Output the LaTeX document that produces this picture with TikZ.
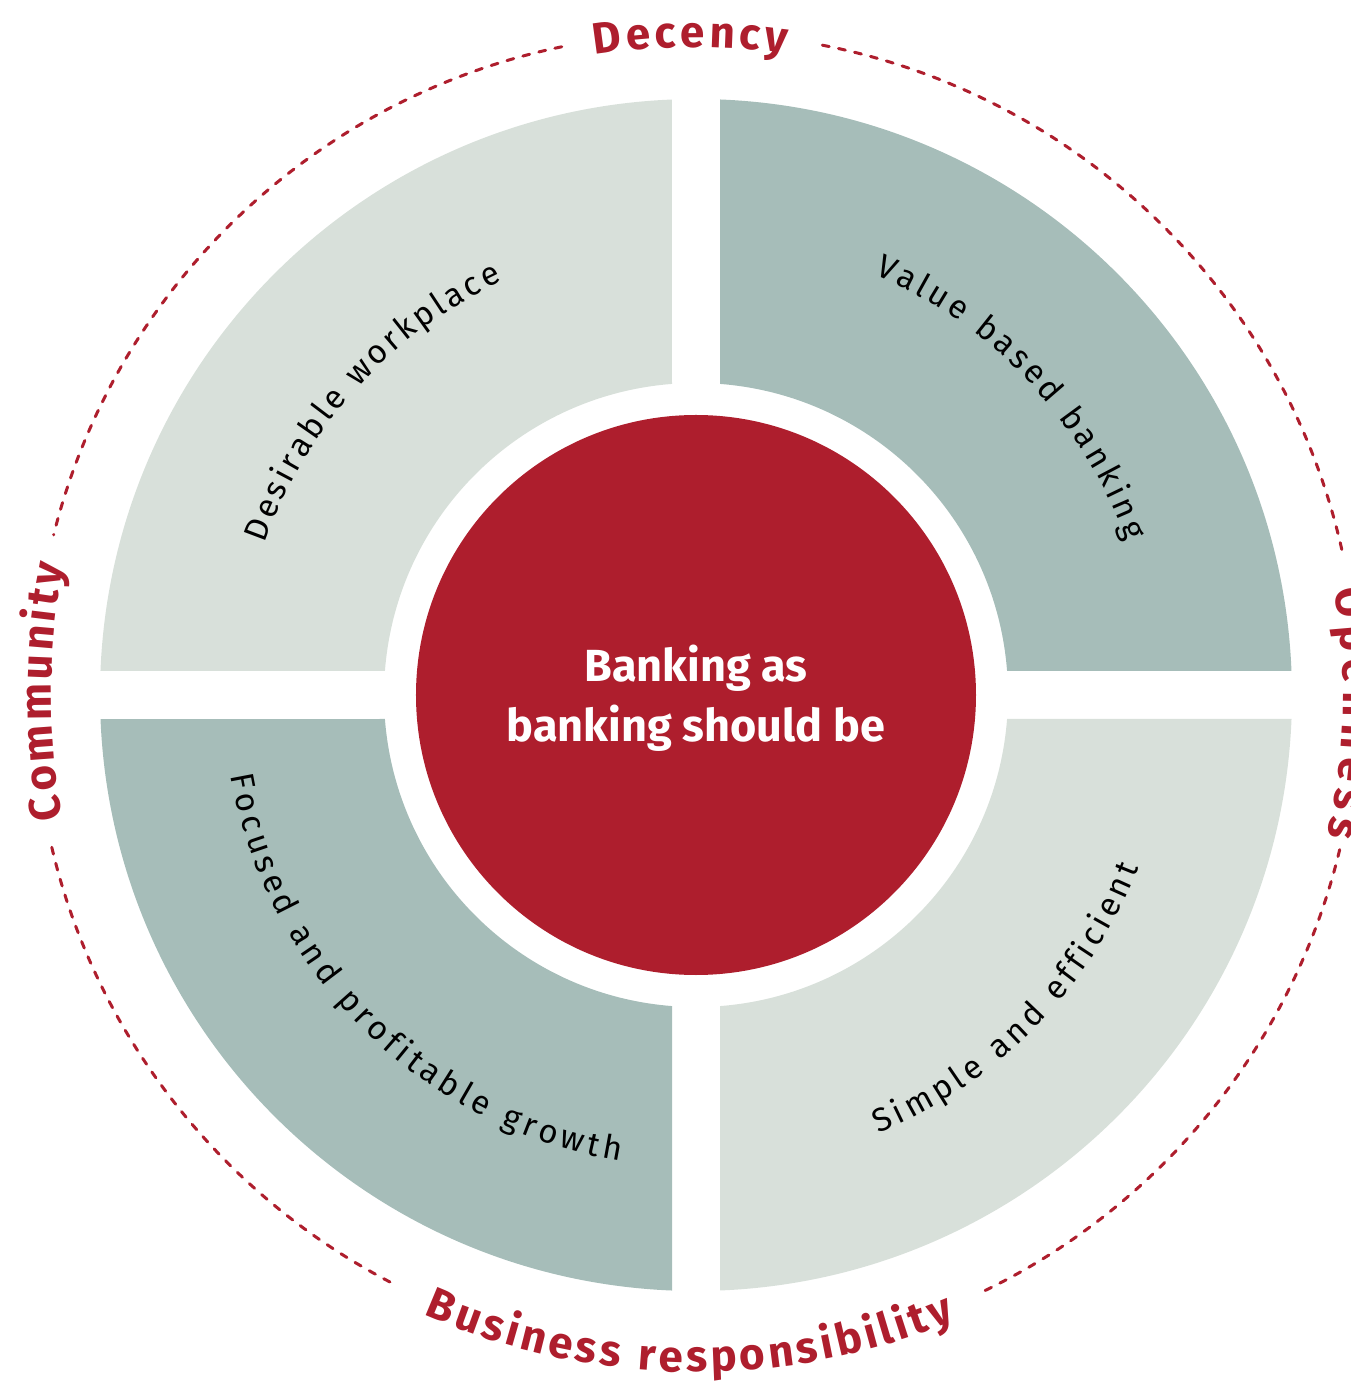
\documentclass[tikz,border=0pt]{standalone}
\usepackage{fontspec}
\setmainfont{Fira Sans}
\usetikzlibrary{decorations.text}
\definecolor{bankred}{RGB}{174,30,45}
\definecolor{sagelight}{RGB}{216,224,218}
\definecolor{sagedark}{RGB}{166,189,185}
\newcommand{\valuefont}{\fontsize{44}{50}\selectfont\bfseries\color{bankred}}
\newcommand{\pillarfont}{\fontsize{33}{38}\selectfont\color{black}}
\tikzset{
quadrant/.pic={
  \fill[#1] (24,311.08) -- (24,595.52)
    arc[start angle=87.69, end angle=2.31, radius=596]
    -- (311.08,24)
    arc[start angle=4.41, end angle=85.59, radius=312] -- cycle;
  },
value label/.style={decorate, decoration={text along path,
  text align={fit to path}, text={|\valuefont|#1}}},
pillar label/.style={decorate, decoration={text along path,
  text align={fit to path}, text={|\pillarfont|#1}}},
ring/.style={bankred, line width=3pt, line cap=round, dash pattern=on 7pt off 9.5pt},
centre text/.style={text=white, font=\fontsize{45}{50}\selectfont\bfseries, inner sep=0pt}
}

\begin{document}
\begin{tikzpicture}[x=1pt, y=1pt]
\useasboundingbox (-696,-686) rectangle (655,695);
\clip (-696,-686) rectangle (655,695);
\pic at (0,0) {quadrant=sagedark};
\pic[rotate=90] at (0,0) {quadrant=sagelight};
\pic[rotate=180] at (0,0) {quadrant=sagedark};
\pic[rotate=270] at (0,0) {quadrant=sagelight};
\fill[bankred] (0,0) circle [radius=280];
\node[centre text, anchor=base] (motto1) at (0,13) {Banking as};
\node[centre text, anchor=base] (motto2) at (0,-47) {banking should be};
\draw[ring] (12.7:662) arc[start angle=12.7, end angle=79.5, radius=662];
\draw[ring] (101.7:662) arc[start angle=101.7, end angle=166, radius=662];
\draw[ring] (193.3:662) arc[start angle=193.3, end angle=243.1, radius=662];
\draw[ring] (295.9:662) arc[start angle=295.9, end angle=347, radius=662];
\path[value label=Decency] (99:648) arc[start angle=99, end angle=82, radius=648];
\path[value label=Community] (191:645) arc[start angle=191, end angle=168.4, radius=645];
\path[value label=Openness] (9.4:647) arc[start angle=9.4, end angle=-12.6, radius=647];
\path[value label=Business responsibility] (246.3:677) arc[start angle=246.3, end angle=292.5, radius=677];
\path[pillar label=Desirable workplace] (160.7:457) arc[start angle=160.7, end angle=115.1, radius=457];
\path[pillar label=Value based banking] (67:457) arc[start angle=67, end angle=19.7, radius=457];
\path[pillar label=Focused and profitable growth] (189.8:472) arc[start angle=189.8, end angle=260.8, radius=472];
\path[pillar label=Simple and efficient] (292.6:475) arc[start angle=292.6, end angle=338.7, radius=475];
\end{tikzpicture}
\end{document}
